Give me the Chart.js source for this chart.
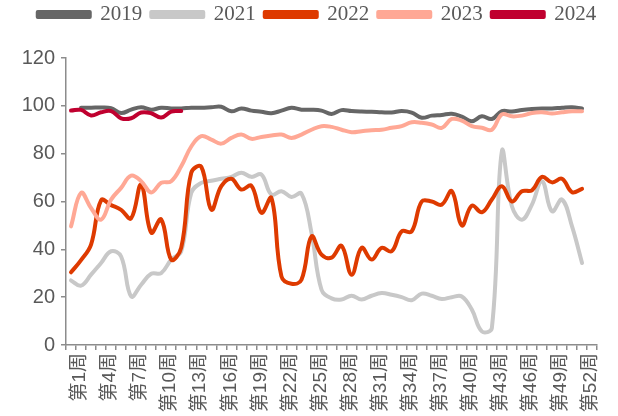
<!DOCTYPE html>
<html>
<head>
<meta charset="utf-8">
<script src="https://cdn.jsdelivr.net/npm/chart.js@4"></script>
<style>
  html, body { margin: 0; padding: 0; background: #ffffff; }
  #wrap { width: 618px; height: 416px; }
</style>
</head>
<body>
<div id="wrap"><canvas id="chart" width="618" height="416"></canvas></div>
<script>
// Weekly index by year (week 1 .. 52, a 53rd slot is left empty)
const weeks = Array.from({ length: 53 }, (_, i) => '第' + (i + 1) + '周');

const years = ['2019', '2021', '2022', '2023', '2024'];

const v2019 = [null, 99.2, 99.2, 99.3, 99.0, 97.0, 98.4, 99.4, 98.4, 99.2,
  98.9, 98.9, 99.2, 99.2, 99.4, 99.6, 97.7, 98.9, 98.0, 97.5,
  96.9, 98.0, 99.2, 98.4, 98.4, 98.0, 96.6, 98.2, 97.8, 97.6,
  97.5, 97.3, 97.2, 97.8, 97.2, 95.0, 95.9, 96.2, 96.7, 95.5,
  93.6, 95.6, 94.5, 97.8, 97.6, 98.3, 98.7, 98.9, 98.9, 99.2,
  99.4, 98.9];

const v2021 = [27.0, 24.8, 29.4, 34.3, 39.2, 37.0, 20.3, 25.2, 29.8, 30.1,
  35.7, 39.2, 63.6, 67.8, 68.7, 69.5, 70.3, 72.0, 70.3, 71.3,
  62.9, 64.3, 61.9, 63.3, 46.9, 23.1, 19.5, 19.0, 20.6, 19.0,
  20.6, 21.7, 21.0, 20.0, 18.7, 21.5, 20.6, 19.2, 20.0, 20.3,
  14.8, 5.7, 7.1, 81.0, 58.0, 52.4, 58.7, 68.5, 55.9, 60.8,
  49.6, 34.3];

const v2022 = [30.4, 35.5, 42.0, 60.5, 58.5, 56.5, 53.0, 67.0, 47.0, 52.5,
  35.7, 40.7, 72.0, 74.5, 56.6, 66.4, 69.5, 65.0, 66.6, 55.3,
  61.5, 28.7, 25.6, 27.3, 45.4, 37.8, 36.5, 41.5, 29.4, 40.6,
  35.7, 40.6, 39.2, 47.5, 47.5, 60.0, 60.0, 58.7, 64.3, 50.0,
  58.3, 55.5, 60.8, 66.4, 60.0, 64.3, 64.7, 70.3, 68.0, 69.5,
  63.9, 65.3];

const v2023 = [49.6, 63.6, 57.3, 52.4, 60.8, 65.7, 70.8, 68.5, 63.8, 67.8,
  68.5, 74.7, 83.0, 87.3, 85.9, 84.2, 86.6, 88.0, 86.2, 87.0,
  87.6, 88.0, 86.6, 88.0, 90.0, 91.5, 91.2, 90.0, 89.0, 89.4,
  89.8, 90.0, 90.8, 91.5, 93.1, 92.9, 92.2, 90.8, 94.5, 93.8,
  91.5, 90.8, 90.0, 96.4, 95.6, 95.9, 97.0, 97.3, 96.8, 97.3,
  97.7, 97.7];

const v2024 = [98.0, 98.3, 96.0, 97.3, 97.8, 94.8, 94.8, 97.2, 96.9, 95.1,
  97.6, 97.8];

const yTicks = [0, 20, 40, 60, 80, 100, 120];

const seriesValues = [v2019, v2021, v2022, v2023, v2024];
const seriesColors = ['#666666', '#C8C8C8', '#DE3A00', '#FFA895', '#C0002F'];

const datasets = years.map((y, i) => ({
  label: y,
  data: seriesValues[i],
  borderColor: seriesColors[i],
  backgroundColor: seriesColors[i],
  borderWidth: 4,
  borderCapStyle: 'round',
  borderJoinStyle: 'round',
  pointRadius: 0,
  pointHoverRadius: 0,
  tension: 0.4,
  fill: false,
  // later years are painted above earlier ones
  order: years.length - i
}));

const axisGrey = '#8C8C8C';
const textGrey = '#595959';

// fixed legend band height, legend row nudged up and to the right
const legendSpacing = {
  id: 'legendSpacing',
  beforeInit(chart) {
    const fit = chart.legend.fit;
    chart.legend.fit = function () {
      fit.bind(chart.legend)();
      this.height = 58;
    };
    const draw = chart.legend.draw;
    chart.legend.draw = function () {
      const ctx = this.ctx;
      ctx.save();
      ctx.translate(15, -5);
      draw.apply(this, arguments);
      ctx.restore();
    };
  }
};

new Chart(document.getElementById('chart'), {
  type: 'line',
  data: { labels: weeks, datasets: datasets },
  plugins: [legendSpacing],
  options: {
    responsive: false,
    animation: false,
    devicePixelRatio: 1,
    layout: { padding: { left: 0, right: 14, top: 0, bottom: 0 } },
    plugins: {
      tooltip: { enabled: false },
      legend: {
        display: true,
        position: 'top',
        labels: {
          boxWidth: 52,
          boxHeight: 5,
          padding: 9,
          color: textGrey,
          font: { family: '"Liberation Serif", "Times New Roman", serif', size: 21 },
          sort: (a, b) => a.datasetIndex - b.datasetIndex
        }
      }
    },
    scales: {
      x: {
        type: 'category',
        offset: true,
        border: { display: true, color: axisGrey, width: 1.5 },
        grid: {
          offset: true,
          drawOnChartArea: false,
          drawTicks: true,
          tickLength: 5,
          color: axisGrey,
          lineWidth: 1.5
        },
        ticks: {
          autoSkip: false,
          maxRotation: 90,
          minRotation: 90,
          padding: 3,
          labelOffset: 9,
          color: textGrey,
          font: { family: '"Liberation Sans", "Noto Sans CJK SC", sans-serif', size: 19 },
          callback: function (value, index) {
            return index % 3 === 0 ? this.getLabelForValue(value) : '';
          }
        },
        afterFit(scale) { scale.height = 71; }
      },
      y: {
        min: 0,
        max: 120,
        border: { display: true, color: axisGrey, width: 1.5 },
        grid: {
          drawOnChartArea: false,
          drawTicks: true,
          tickLength: 5,
          color: axisGrey,
          lineWidth: 1.5
        },
        afterBuildTicks(scale) { scale.ticks = yTicks.map(v => ({ value: v })); },
        ticks: {
          padding: 6,
          color: textGrey,
          font: { family: '"Liberation Sans", Arial, sans-serif', size: 20 }
        },
        afterFit(scale) { scale.width = 66; }
      }
    }
  }
});
</script>
</body>
</html>
